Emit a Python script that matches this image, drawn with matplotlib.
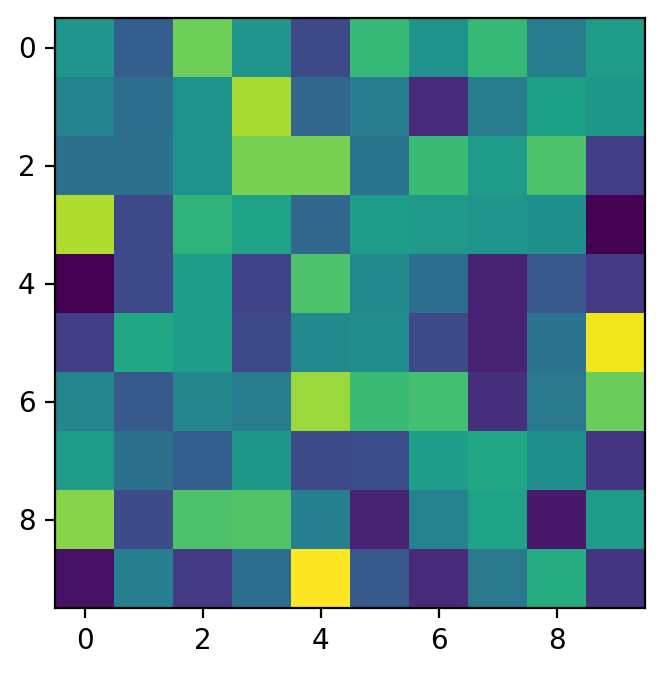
import numpy as np
import matplotlib
matplotlib.use('Agg')
import matplotlib.pyplot as plt

# Cell values (viridis scale, 0 = dark purple, 1 = yellow)
row0 = [0.52, 0.30, 0.78, 0.52, 0.22, 0.67, 0.51, 0.67, 0.42, 0.55]
row1 = [0.45, 0.36, 0.51, 0.87, 0.33, 0.42, 0.12, 0.42, 0.57, 0.53]
row2 = [0.37, 0.37, 0.51, 0.80, 0.80, 0.39, 0.68, 0.55, 0.72, 0.18]
row3 = [0.88, 0.22, 0.65, 0.58, 0.33, 0.56, 0.54, 0.52, 0.50, 0.00]
row4 = [0.00, 0.22, 0.55, 0.20, 0.72, 0.48, 0.36, 0.10, 0.27, 0.17]
row5 = [0.18, 0.60, 0.56, 0.22, 0.48, 0.49, 0.22, 0.10, 0.38, 0.98]
row6 = [0.46, 0.28, 0.46, 0.42, 0.85, 0.68, 0.70, 0.14, 0.40, 0.77]
row7 = [0.55, 0.37, 0.30, 0.53, 0.23, 0.24, 0.56, 0.60, 0.50, 0.15]
row8 = [0.82, 0.23, 0.72, 0.73, 0.43, 0.10, 0.44, 0.58, 0.07, 0.55]
row9 = [0.05, 0.43, 0.17, 0.36, 1.00, 0.28, 0.12, 0.40, 0.62, 0.15]

data = np.array([row0, row1, row2, row3, row4, row5, row6, row7, row8, row9])

fig = plt.figure(figsize=(3.325, 3.37), dpi=200)
ax = fig.add_axes([55 / 665, 1 - 608 / 674, 590 / 665, 590 / 674])
ax.imshow(data, cmap='viridis', vmin=0, vmax=1)

plt.savefig('out.png', dpi=200)
